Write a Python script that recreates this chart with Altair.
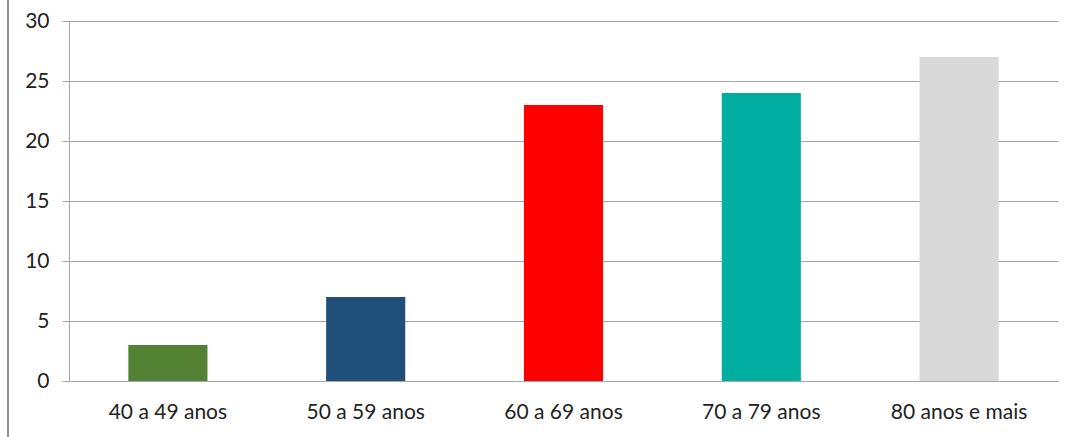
import altair as alt
import pandas as pd

# Age groups and their counts
categories = ["40 a 49 anos", "50 a 59 anos", "60 a 69 anos", "70 a 79 anos", "80 anos e mais"]
values = [3, 7, 23, 24, 27]
colors = ["#548235", "#1F4E79", "#FF0000", "#00AFA0", "#D9D9D9"]

df = pd.DataFrame({"faixa": categories, "valor": values, "cor": colors})

FONT = "Lato"
GRID = "#A6A6A6"

bars = alt.Chart(df).mark_bar().encode(
    x=alt.X(
        "faixa:N",
        sort=categories,
        title=None,
        scale=alt.Scale(paddingInner=0.6, paddingOuter=0.3),
        axis=alt.Axis(
            labelAngle=0, ticks=False, labelPadding=20, labelFontSize=21,
            labelFont=FONT, labelColor="#222222", domainColor=GRID, domainWidth=1,
        ),
    ),
    y=alt.Y(
        "valor:Q",
        title=None,
        scale=alt.Scale(domain=[0, 30], nice=False),
        axis=alt.Axis(
            values=[0, 5, 10, 15, 20, 25, 30], tickSize=7, tickColor=GRID,
            labelPadding=13, labelFontSize=21, labelFont=FONT, labelColor="#222222",
            gridColor=GRID, gridWidth=1, domainColor=GRID, domainWidth=1,
        ),
    ),
    color=alt.Color("cor:N", scale=None, legend=None),
)

# Thin frame line on the left edge of the figure
edge = alt.Chart(df).mark_rule(color="#8C8C8C", strokeWidth=1, clip=False).encode(
    x=alt.value(-61), y=alt.value(-21), y2=alt.value(416)
)

chart = (
    alt.layer(edge, bars)
    .properties(
        width=989, height=360,
        autosize=alt.AutoSizeParams(type="none"),
        padding={"left": 69, "top": 21, "right": 14, "bottom": 56},
        background="white",
    )
    .configure_view(stroke=None)
)

chart.save("out.html", embed_options={"renderer": "svg", "actions": False})
